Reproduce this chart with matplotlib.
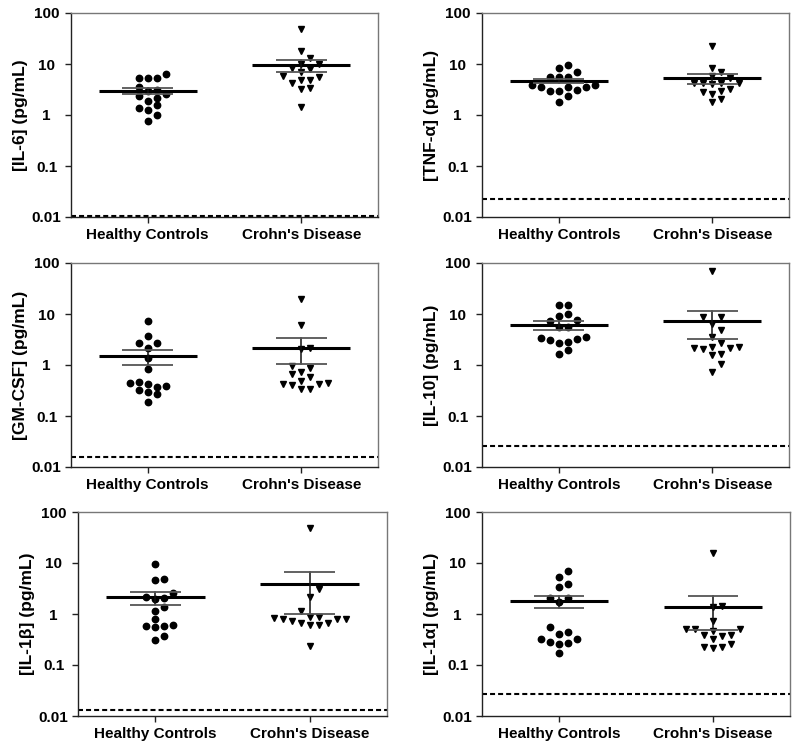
import numpy as np
import matplotlib
matplotlib.use("Agg")
import matplotlib.pyplot as plt

plt.rcParams['font.family'] = ['Liberation Sans', 'DejaVu Sans']
plt.rcParams['font.weight'] = 'bold'
plt.rcParams['lines.scale_dashes'] = False

groups = ["Healthy Controls", "Crohn's Disease"]
ylabels = ["[IL-6] (pg/mL)", "[TNF-\u03b1] (pg/mL)", "[GM-CSF] (pg/mL)",
           "[IL-10] (pg/mL)", "[IL-1\u03b2] (pg/mL)", "[IL-1\u03b1] (pg/mL)"]
yticks = [0.01, 0.1, 1, 10, 100]
ytick_labels = ["0.01", "0.1", "1", "10", "100"]

il6_hc = [6.5, 5.3, 5.2, 5.3, 3.5, 3.1, 2.95, 2.6, 2.4, 2.2, 1.9, 1.54, 1.36, 1.26, 0.98, 0.78]
il6_cd = [48, 18, 13.2, 10.2, 10.2, 8.4, 8.1, 7.0, 5.7, 5.6, 4.9, 4.8, 4.2, 3.4, 3.2, 1.43]
tnf_hc = [9.6, 8.2, 7.1, 5.6, 5.5, 5.5, 3.8, 3.8, 3.6, 3.6, 3.5, 3.1, 3.0, 3.0, 2.4, 1.8]
tnf_cd = [22.9, 8.2, 7.1, 5.8, 5.4, 4.3, 4.2, 4.2, 4.2, 4.05, 3.3, 3.0, 2.8, 2.6, 2.06, 1.82]
gmcsf_hc = [7.4, 3.7, 2.66, 2.66, 2.2, 1.39, 0.82, 0.47, 0.44, 0.42, 0.39, 0.376, 0.32, 0.29, 0.266, 0.19]
gmcsf_cd = [19.4, 6.1, 2.2, 2.03, 0.95, 0.86, 0.72, 0.67, 0.59, 0.49, 0.44, 0.42, 0.415, 0.405, 0.34, 0.34]
il10_hc = [15.0, 15.0, 9.8, 9.1, 7.6, 7.4, 5.65, 5.5, 3.6, 3.4, 3.2, 3.1, 2.87, 2.74, 1.97, 1.62]
il10_cd = [70.7, 8.9, 8.9, 6.4, 4.9, 3.6, 2.66, 2.29, 2.29, 2.2, 2.2, 2.06, 1.64, 1.57, 1.03, 0.74]
il1b_hc = [9.6, 4.9, 4.6, 2.54, 2.12, 2.03, 1.94, 1.35, 1.15, 0.80, 0.60, 0.59, 0.57, 0.556, 0.37, 0.31]
il1b_cd = [47.8, 3.05, 2.19, 1.15, 0.89, 0.89, 0.82, 0.79, 0.79, 0.79, 0.74, 0.66, 0.66, 0.60, 0.60, 0.236]
il1a_hc = [7.1, 5.2, 3.8, 3.4, 2.03, 2.03, 1.75, 0.56, 0.45, 0.41, 0.32, 0.32, 0.287, 0.266, 0.258, 0.17]
il1a_cd = [15.5, 1.44, 1.35, 0.73, 0.51, 0.51, 0.51, 0.46, 0.39, 0.38, 0.37, 0.32, 0.26, 0.23, 0.225, 0.22]

means_hc = [2.95, 4.6, 1.5, 6.1, 2.12, 1.8]
sems_hc = [0.38, 0.45, 0.5, 1.15, 0.6, 0.5]
means_cd = [9.4, 5.3, 2.2, 7.4, 3.9, 1.38]
sems_cd = [2.45, 1.2, 1.17, 4.2, 2.9, 0.9]
detection_limits = [0.0107, 0.0225, 0.0155, 0.0258, 0.0131, 0.0266]

hc_data = [il6_hc, tnf_hc, gmcsf_hc, il10_hc, il1b_hc, il1a_hc]
cd_data = [il6_cd, tnf_cd, gmcsf_cd, il10_cd, il1b_cd, il1a_cd]

W, H = 800, 750
fig = plt.figure(figsize=(8, 7.5), dpi=100)
# (left, top, right, bottom) in pixels
boxes = [(71, 13, 378, 217), (482, 13, 789, 217),
         (71, 263, 378, 467), (482, 263, 789, 467),
         (78, 512, 387, 716), (482, 512, 790, 716)]


def swarm_k(ax, vals, thresh=7.5):
    vals = np.asarray(vals, float)
    ypix = ax.transData.transform(np.column_stack([np.ones(len(vals)), vals]))[:, 1]
    order = np.argsort(vals, kind="stable")
    placed = {}
    ks = np.zeros(len(vals), int)
    cand = [0]
    for j in range(1, 10):
        cand += [j, -j]
    for i in order:
        for k in cand:
            if all(abs(ypix[i] - y) >= thresh for y in placed.get(k, [])):
                ks[i] = k
                placed.setdefault(k, []).append(ypix[i])
                break
    return ks


for p in range(6):
    l, t, r, b = boxes[p]
    ax = fig.add_axes([l / W, 1 - b / H, (r - l) / W, (b - t) / H])
    ax.set_yscale('log')
    ax.set_ylim(0.01, 100)
    ax.set_xlim(0.5, 2.5)
    ax.set_yticks(yticks)
    ax.set_yticklabels(ytick_labels, ha='center')
    ax.yaxis.set_minor_locator(matplotlib.ticker.NullLocator())
    ax.set_xticks([1, 2])
    ax.set_xticklabels(groups)
    ax.tick_params(axis='both', direction='out', length=4.5, width=1.0,
                   labelsize=11, color='#222222')
    ax.tick_params(axis='y', pad=13)
    ax.tick_params(axis='x', pad=3.5)
    for lab in ax.get_xticklabels() + ax.get_yticklabels():
        lab.set_fontweight('bold')
    for s in ['left', 'bottom']:
        ax.spines[s].set_color('#222222')
        ax.spines[s].set_linewidth(1.0)
    for s in ['top', 'right']:
        ax.spines[s].set_color('#777777')
        ax.spines[s].set_linewidth(1.0)
    ax.set_ylabel(ylabels[p], fontsize=12.5, fontweight='bold')
    ax.yaxis.set_label_coords(-0.14, 0.5)

    # detection limit
    ax.axhline(detection_limits[p], color='black', lw=1.5, dashes=(3.6, 2.2), zorder=2)

    x0 = ax.transData.transform((1, 1))[0]
    x1 = ax.transData.transform((2, 1))[0]
    unit_per_px = 1.0 / (x1 - x0)
    slot = 9.0 * unit_per_px

    for g, (data, m, se, mk) in enumerate([(hc_data[p], means_hc[p], sems_hc[p], 'o'),
                                           (cd_data[p], means_cd[p], sems_cd[p], 'v')]):
        xc = g + 1
        ks = swarm_k(ax, data)
        xs = xc + ks * slot
        ax.plot(xs, data, linestyle='none', marker=mk, color='black',
                markersize=4.6 if mk == 'o' else 4.8, zorder=3)
        # mean
        ax.plot([xc - 0.32, xc + 0.32], [m, m], color='black', lw=2.2, zorder=4,
                solid_capstyle='butt')
        # SEM
        ax.plot([xc, xc], [m - se, m + se], color='#111111', lw=1.1, zorder=4)
        for yv in (m - se, m + se):
            ax.plot([xc - 0.165, xc + 0.165], [yv, yv], color='#555555', lw=1.3, zorder=4,
                    solid_capstyle='butt')

fig.savefig("out.png", dpi=100)
